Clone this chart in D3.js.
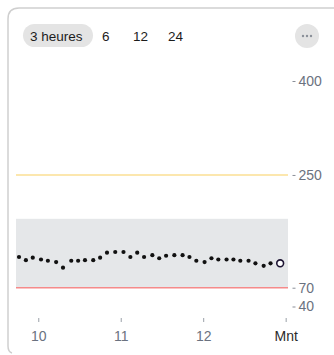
<!DOCTYPE html>
<html>
<head>
<meta charset="utf-8">
<script src="https://cdn.jsdelivr.net/npm/d3@7"></script>
<style>
  html, body { margin: 0; padding: 0; background: #fff; }
  svg { display: block; font-family: "Liberation Sans", Arial, Helvetica, sans-serif; }
</style>
</head>
<body>
<svg id="chart" width="334" height="355"></svg>
<script>
// Glucose readings (mg/dL) over the last three hours, one reading about every 5 minutes
const readingTimes = ["9:46","9:51","9:56","10:02","10:07","10:13","10:18","10:24","10:29","10:34",
  "10:40","10:45","10:50","10:56","11:02","11:07","11:12","11:17","11:23","11:28",
  "11:33","11:39","11:45","11:50","11:55","12:01","12:06","12:11","12:17","12:22",
  "12:27","12:33","12:38","12:44","12:49","12:56"];
const glucoseValues = [119,114,118,115,113,111,102,113,113,114,
  114,118,126,127,127,119,126,119,122,117,
  121,122,122,119,113,111,117,115,115,115,
  113,113,109,105,109,109];

// Range selector buttons
const rangeOptions = ["3 heures", "6", "12", "24"];

// Axis ticks
const yTicks = [40, 70, 250, 400];
const xTickTimes = ["10:00", "11:00", "12:00", "13:00"];
const xTickLabels = ["10", "11", "12", "Mnt"];

// Thresholds
const targetLow = 70, targetHigh = 180, highAlert = 250, lowAlert = 70;

const toMin = s => { const [h, m] = s.split(":").map(Number); return h * 60 + m; };
const data = readingTimes.map((t, i) => ({ t: toMin(t), v: glucoseValues[i] }));

const svg = d3.select("#chart");

// Card outline (left/top edges visible in the frame)
svg.append("path")
  .attr("d", "M12,353 Q8,352 8,346 L8,19 Q8,8 19,8 L334,8")
  .attr("fill", "none").attr("stroke", "#cfcfcf").attr("stroke-width", 1.5);

// Range selector
const btnX = [30, 102, 133, 168];
svg.append("rect").attr("x", 23).attr("y", 24).attr("width", 70).attr("height", 23)
  .attr("rx", 11.5).attr("fill", "#e4e4e4");
svg.selectAll("text.range").data(rangeOptions).join("text")
  .attr("class", "range")
  .attr("x", (d, i) => btnX[i]).attr("y", 40.5)
  .attr("font-size", 13.5).attr("fill", "#1c1c1c")
  .text(d => d);

// Overflow menu button
svg.append("circle").attr("cx", 307).attr("cy", 36).attr("r", 12).attr("fill", "#e4e4e4");
svg.selectAll("circle.dot3").data([-4, 0, 4]).join("circle")
  .attr("class", "dot3").attr("cx", d => 307 + d).attr("cy", 36).attr("r", 1.2)
  .attr("fill", "#8a8f98");

// Scales
const x = d3.scaleLinear().domain([583.8, 781.7]).range([16, 288]);
const y = d3.scaleLinear().domain([40, 400]).range([306.5, 81]);

// Target range band
svg.append("rect")
  .attr("x", x.range()[0]).attr("width", x.range()[1] - x.range()[0])
  .attr("y", y(targetHigh)).attr("height", y(targetLow) - y(targetHigh))
  .attr("fill", "#e5e7e9");

// Threshold lines
svg.append("line")
  .attr("x1", x.range()[0]).attr("x2", x.range()[1])
  .attr("y1", y(highAlert)).attr("y2", y(highAlert))
  .attr("stroke", "#fbdf93").attr("stroke-width", 1.5);
svg.append("line")
  .attr("x1", x.range()[0]).attr("x2", x.range()[1])
  .attr("y1", y(lowAlert)).attr("y2", y(lowAlert))
  .attr("stroke", "#f58a8a").attr("stroke-width", 1.5);

// Y axis on the right
const yAxis = svg.append("g").attr("transform", "translate(292.5,0)")
  .call(d3.axisRight(y).tickValues(yTicks).tickSize(3).tickPadding(3).tickFormat(d3.format("d")));
yAxis.select(".domain").remove();
yAxis.selectAll(".tick line").attr("stroke", "#8a8f98");
yAxis.selectAll(".tick text").attr("font-size", 14).attr("fill", "#6b7280")
  .attr("font-family", "'Liberation Sans', Arial, sans-serif");

// X axis
const xAxis = svg.append("g").attr("transform", "translate(0,318)")
  .call(d3.axisBottom(x).tickValues(xTickTimes.map(toMin)).tickSize(4).tickPadding(9)
    .tickFormat((d, i) => xTickLabels[i]));
xAxis.select(".domain").remove();
xAxis.selectAll(".tick line").attr("stroke", "#9aa0a8");
xAxis.selectAll(".tick text").attr("font-size", 14)
  .attr("font-family", "'Liberation Sans', Arial, sans-serif")
  .attr("fill", (d, i) => i === xTickLabels.length - 1 ? "#2b2b2b" : "#6b7280");

// Readings
const past = data.slice(0, -1), latest = data[data.length - 1];
svg.selectAll("circle.reading").data(past).join("circle")
  .attr("class", "reading")
  .attr("cx", d => x(d.t)).attr("cy", d => y(d.v)).attr("r", 2.1)
  .attr("fill", "#111");
svg.append("circle")
  .attr("cx", x(latest.t)).attr("cy", y(latest.v)).attr("r", 3.4)
  .attr("fill", "#fff").attr("stroke", "#1d1433").attr("stroke-width", 1.6);
</script>
</body>
</html>
